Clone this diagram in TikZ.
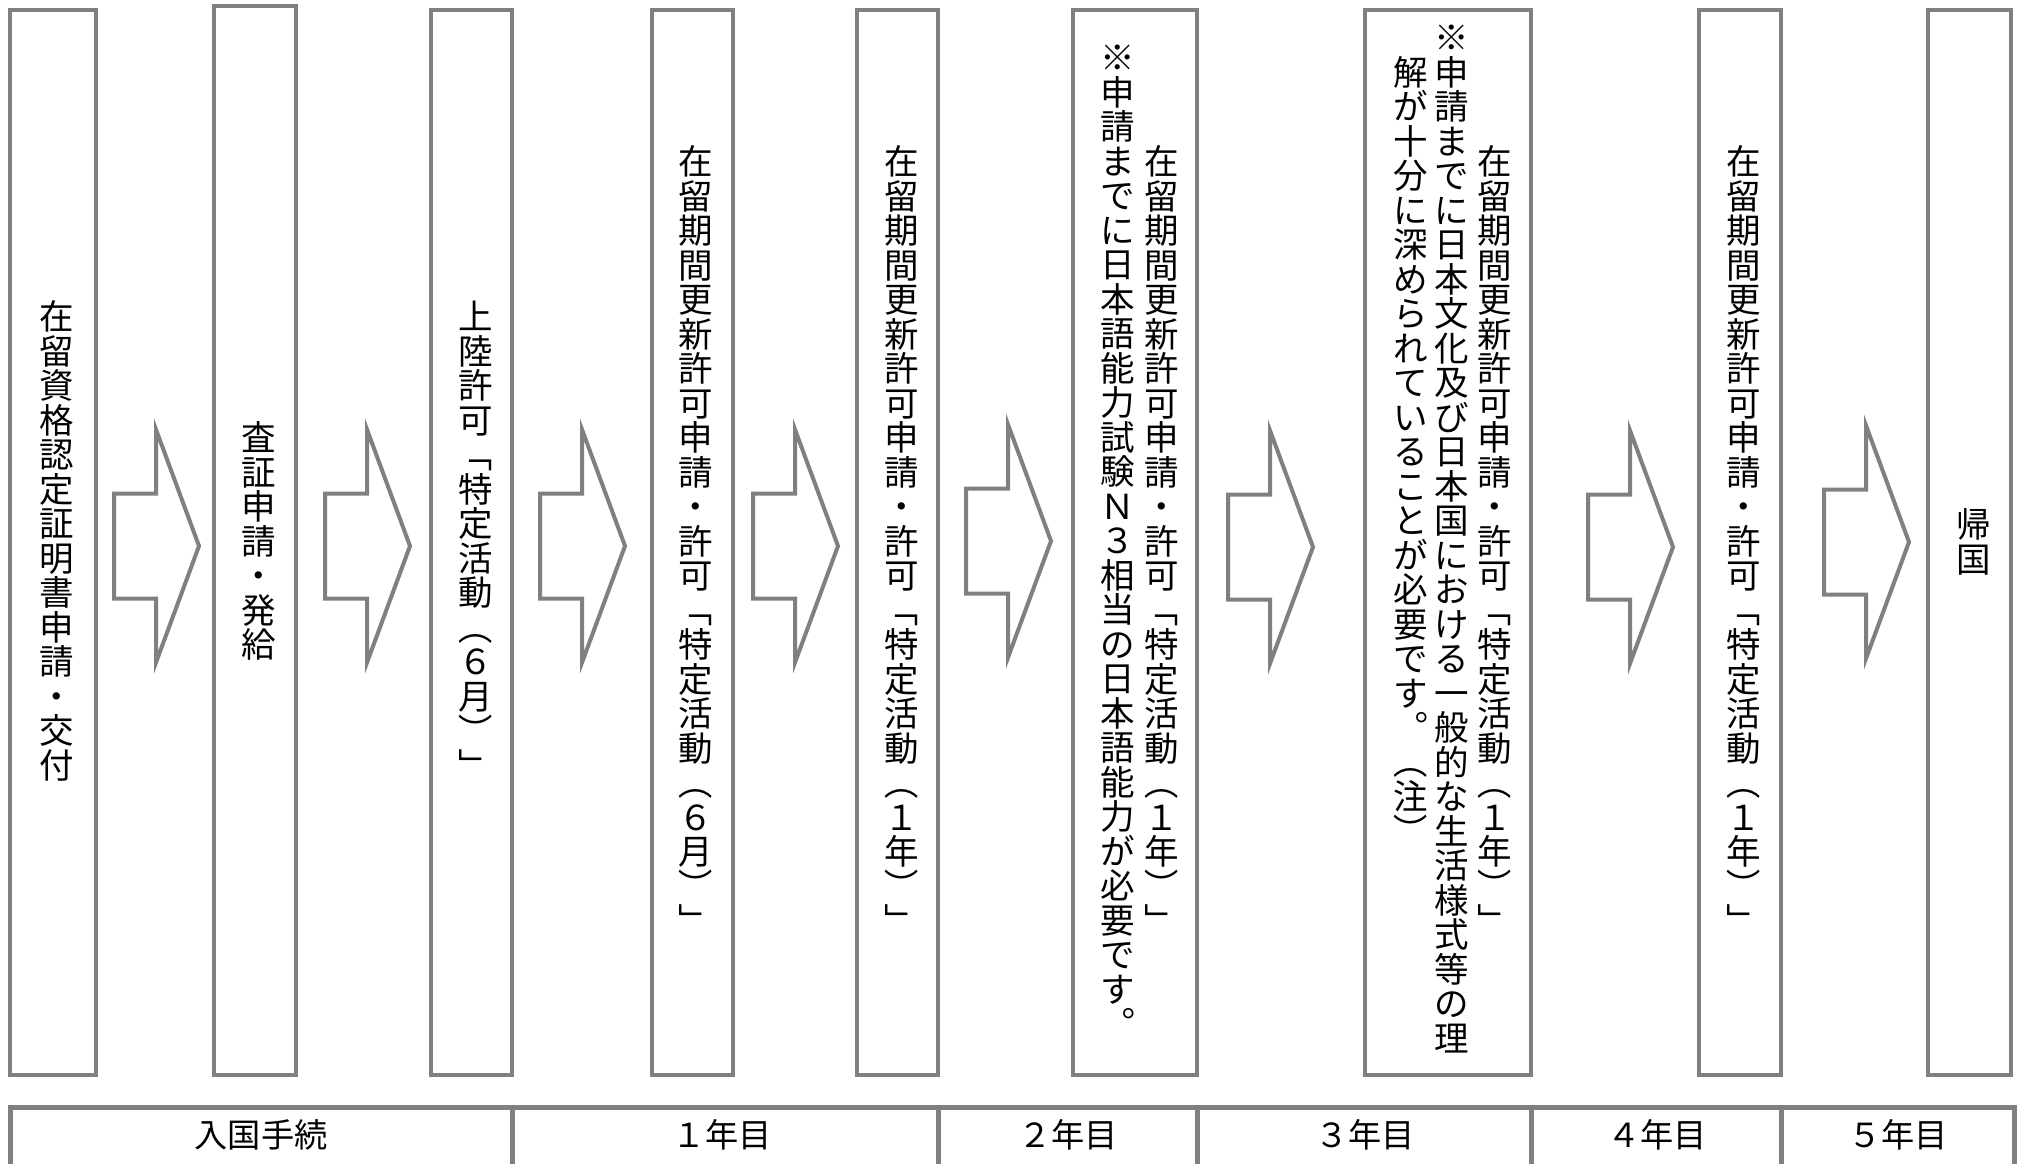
\documentclass[tikz,border=0pt]{standalone}
\usepackage{fontspec}
\usepackage{graphicx}
\newfontfamily\jpfont{Noto Sans CJK JP}
\definecolor{linegray}{HTML}{808080}
\makeatletter
\def\vc@LB{「}\def\vc@RB{」}\def\vc@LP{（}\def\vc@RP{）}\def\vc@PD{。}
\newcommand\vc@cell[1]{\hbox to 1em{\vrule height .88em depth .12em width 0pt\hss#1\hss}}
\newcommand\vc@rot[1]{\hbox to 1em{\vrule height .88em depth .12em width 0pt\hss\smash{\rotatebox[origin=c]{#1}{\vc@cell{\vc@c}}}\hss}}
\newcommand\vc@one{%
  \ifx\vc@c\vc@LB \vc@rot{-90}\else
  \ifx\vc@c\vc@RB \vc@rot{-90}\else
  \ifx\vc@c\vc@LP \vc@rot{-90}\else
  \ifx\vc@c\vc@RP \vc@rot{-90}\else
  \ifx\vc@c\vc@PD \vc@rot{180}\else
  \vc@cell{\vc@c}\fi\fi\fi\fi\fi}
\newcommand\vcol[1]{\vbox{\offinterlineskip\@tfor\vc@c:=#1\do{\vc@one}}}
\makeatother
\begin{document}
\begin{tikzpicture}[x=0.5pt,y=-0.5pt,
  boxst/.style={draw=linegray, line width=2pt, fill=white},
  rowst/.style={draw=linegray, line width=2.5pt, fill=white},
  arrst/.style={draw=linegray, line width=2pt, fill=white},
  vtext/.style={inner sep=0pt, font=\jpfont\fontsize{17.25pt}{20pt}\selectfont},
  htext/.style={inner sep=0pt, font=\jpfont\fontsize{16.6pt}{20pt}\selectfont},
  pics/blockarrow/.style={code={\draw[arrst] (0,-52.5) -- (42,-52.5) -- (42,-116.5) -- (85,0) -- (42,116.5) -- (42,52.5) -- (0,52.5) -- cycle;}}]
\useasboundingbox (0,0) rectangle (2024,1163);
\clip (0,0) rectangle (2024,1163);
\fill[white] (0,0) rectangle (2024,1163);

% step boxes
\draw[boxst] (10,10) rectangle (96,1075);
\draw[boxst] (214,6) rectangle (296,1075);
\draw[boxst] (431,10) rectangle (512,1075);
\draw[boxst] (652,10) rectangle (733,1075);
\draw[boxst] (857,10) rectangle (938,1075);
\draw[boxst] (1073,10) rectangle (1197,1075);
\draw[boxst] (1365,10) rectangle (1531,1075);
\draw[boxst] (1699,10) rectangle (1781,1075);
\draw[boxst] (1928,10) rectangle (2011,1075);

% block arrows
\pic at (114,546) {blockarrow};
\pic at (325,546) {blockarrow};
\pic at (540,546) {blockarrow};
\pic at (753,546) {blockarrow};
\pic at (966,541) {blockarrow};
\pic at (1228,547) {blockarrow};
\pic at (1588,547) {blockarrow};
\pic at (1824,542) {blockarrow};

% vertical texts
\node[vtext] (t1) at (57,541) {\vcol{在留資格認定証明書申請・交付}};
\node[vtext] (t2) at (259,541) {\vcol{査証申請・発給}};
\node[vtext] (t3) at (475.5,541) {\vcol{上陸許可「特定活動（６月）」}};
\node[vtext] (t4) at (696,541) {\vcol{在留期間更新許可申請・許可「特定活動（６月）」}};
\node[vtext] (t5) at (902,541) {\vcol{在留期間更新許可申請・許可「特定活動（１年）」}};
\node[vtext] (t6a) at (1162,541) {\vcol{在留期間更新許可申請・許可「特定活動（１年）」}};
\node[vtext, anchor=north] (t6b) at (1118,40) {\vcol{※申請までに日本語能力試験Ｎ３相当の日本語能力が必要です。}};
\node[vtext] (t7a) at (1495,541) {\vcol{在留期間更新許可申請・許可「特定活動（１年）」}};
\node[vtext, anchor=north] (t7b) at (1452,20) {\vcol{※申請までに日本文化及び日本国における一般的な生活様式等の理}};
\node[vtext, anchor=north] (t7c) at (1411,54.5) {\vcol{解が十分に深められていることが必要です。（注）}};
\node[vtext] (t8) at (1744,541) {\vcol{在留期間更新許可申請・許可「特定活動（１年）」}};
\node[vtext] (t9) at (1974,542) {\vcol{帰国}};

% bottom timeline row
\draw[rowst] (10,1107) rectangle (512,1190);
\draw[rowst] (512,1107) rectangle (938,1190);
\draw[rowst] (938,1107) rectangle (1197,1190);
\draw[rowst] (1197,1107) rectangle (1531,1190);
\draw[rowst] (1531,1107) rectangle (1781,1190);
\draw[rowst] (1781,1107) rectangle (2014,1190);
\node[htext] (y0) at (261,1135) {入国手続};
\node[htext] (y1) at (722,1135) {１年目};
\node[htext] (y2) at (1068,1135) {２年目};
\node[htext] (y3) at (1365,1135) {３年目};
\node[htext] (y4) at (1657,1135) {４年目};
\node[htext] (y5) at (1898,1135) {５年目};
\end{tikzpicture}
\end{document}
